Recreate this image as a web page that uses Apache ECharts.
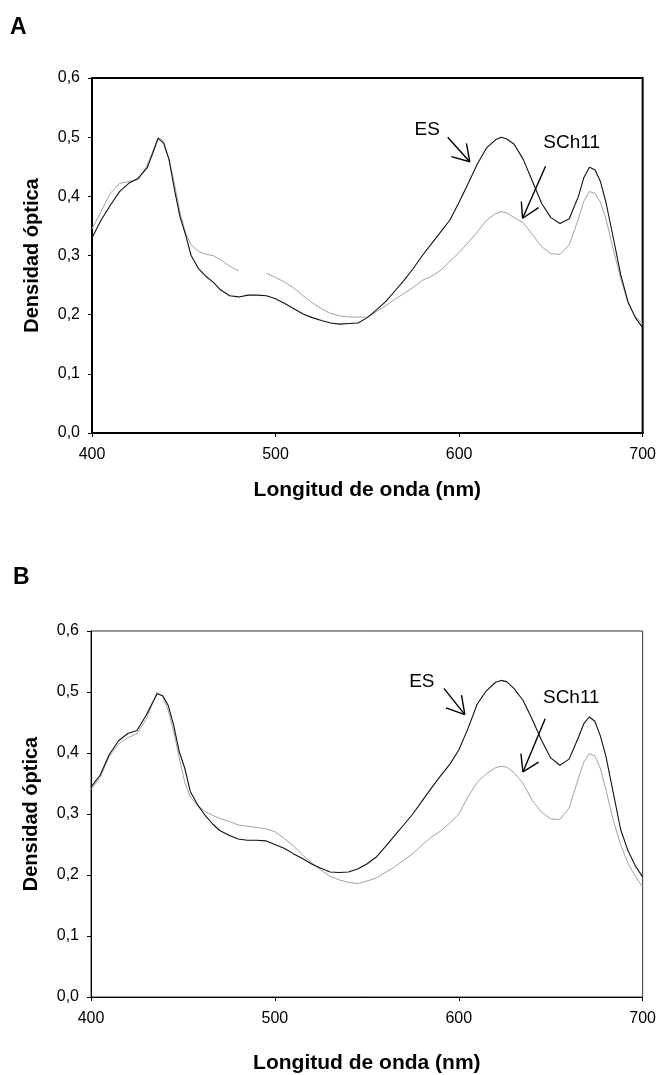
<!DOCTYPE html>
<html>
<head>
<meta charset="utf-8">
<script src="https://cdn.jsdelivr.net/npm/echarts@6/dist/echarts.min.js"></script>
<style>
html,body{margin:0;padding:0;background:#fff;}
#chart{width:659px;height:1075px;}
</style>
</head>
<body>
<div id="chart"></div>
<script>
// Wavelengths (nm)
var wavelengths = [400,405,410,415,420,425,430,433,436,439,442,445,448,451,454,458,462,466,470,475,480,485,490,495,500,505,510,515,520,525,530,535,540,545,550,555,560,565,570,575,580,585,590,595,600,605,610,615,620,623,626,630,635,640,645,650,655,660,665,668,671,674,677,680,684,688,692,696,700];

// Panel A
var esA = [0.330,0.360,0.385,0.408,0.422,0.430,0.448,0.472,0.498,0.490,0.462,0.410,0.365,0.335,0.300,0.278,0.265,0.255,0.242,0.232,0.230,0.233,0.233,0.232,0.227,0.219,0.210,0.201,0.195,0.190,0.186,0.184,0.185,0.186,0.195,0.208,0.222,0.240,0.258,0.278,0.300,0.320,0.340,0.360,0.390,0.422,0.455,0.482,0.496,0.500,0.497,0.488,0.462,0.425,0.388,0.364,0.354,0.362,0.400,0.432,0.449,0.445,0.425,0.390,0.330,0.268,0.222,0.195,0.178];
var schA = [0.345,0.375,0.405,0.422,0.425,0.428,0.452,0.475,0.500,0.493,0.462,0.420,0.372,0.338,0.318,0.307,0.302,0.300,0.293,0.282,0.274,null,null,0.270,0.263,0.255,0.245,0.232,0.220,0.210,0.202,0.198,0.196,0.196,0.196,0.205,0.215,0.226,0.236,0.246,0.258,0.265,0.275,0.290,0.305,0.322,0.340,0.360,0.371,0.374,0.372,0.364,0.355,0.335,0.315,0.303,0.302,0.318,0.362,0.392,0.408,0.405,0.390,0.362,0.310,0.262,0.220,0.197,0.185];

// Panel B
var esB = [0.344,0.364,0.398,0.420,0.432,0.437,0.462,0.480,0.497,0.494,0.478,0.445,0.402,0.375,0.337,0.315,0.298,0.284,0.273,0.265,0.259,0.257,0.257,0.256,0.250,0.244,0.235,0.227,0.218,0.211,0.205,0.204,0.205,0.210,0.218,0.229,0.246,0.264,0.282,0.300,0.321,0.342,0.362,0.381,0.405,0.440,0.480,0.502,0.516,0.519,0.517,0.506,0.486,0.455,0.421,0.392,0.380,0.390,0.425,0.448,0.459,0.452,0.428,0.395,0.335,0.275,0.240,0.215,0.197];
var schB = [0.340,0.360,0.395,0.415,0.425,0.432,0.455,0.478,0.500,0.492,0.470,0.435,0.392,0.352,0.328,0.314,0.304,0.298,0.293,0.288,0.282,0.280,0.278,0.276,0.271,0.260,0.248,0.233,0.220,0.208,0.198,0.192,0.188,0.186,0.190,0.195,0.204,0.213,0.224,0.235,0.249,0.262,0.272,0.285,0.300,0.328,0.352,0.366,0.376,0.378,0.377,0.368,0.350,0.322,0.303,0.292,0.291,0.310,0.358,0.385,0.399,0.395,0.375,0.340,0.290,0.250,0.219,0.198,0.180];

var seriesNames = ['ES','SCh11'];
var panelLabels = ['A','B'];
var xTitle = 'Longitud de onda (nm)';
var yTitle = 'Densidad óptica';

// Annotation anchors in data space
var annA = {
  es:  {label:[582.6,0.513], from:[593.8,0.500], to:[605.8,0.4585], w1:[604.0,0.4896], w2:[595.8,0.467]},
  sch: {label:[661.3,0.490], from:[647.1,0.451], to:[634.6,0.363], w1:[633.9,0.391], w2:[643.3,0.381]}
};
var annB = {
  es:  {label:[579.9,0.517], from:[591.9,0.506], to:[603.3,0.463], w1:[601.5,0.495], w2:[593.0,0.474]},
  sch: {label:[661.2,0.491], from:[647.0,0.456], to:[634.9,0.369], w1:[633.8,0.399], w2:[643.4,0.385]}
};

function pairs(xs, ys){ return xs.map(function(x,i){ return [x, ys[i]]; }); }

var FONT = 'Liberation Sans, Arial, sans-serif';

function arrowLines(a){
  var seg = function(p,q){ return [{coord:p},{coord:q}]; };
  return [
    seg(a.es.from, a.es.to), seg(a.es.w1, a.es.to), seg(a.es.w2, a.es.to),
    seg(a.sch.from, a.sch.to), seg(a.sch.w1, a.sch.to), seg(a.sch.w2, a.sch.to)
  ];
}
function labelPoints(a){
  return [
    {coord:a.es.label, value: seriesNames[0]},
    {coord:a.sch.label, value: seriesNames[1]}
  ];
}

function xAxisCfg(idx, lw, gap){
  return {
    type:'value', gridIndex: idx, min:400, max:700, interval:100,
    name: xTitle, nameLocation:'middle', nameGap: gap,
    nameTextStyle:{fontFamily:FONT, fontWeight:'bold', fontSize:21, color:'#000'},
    axisLine:{show:true, lineStyle:{color:'#000', width:lw}},
    axisTick:{show:true, length:4, lineStyle:{color:'#000'}},
    axisLabel:{fontFamily:FONT, fontSize:16, color:'#000', margin:14},
    splitLine:{show:false}
  };
}
function yAxisCfg(idx, lw){
  return {
    type:'value', gridIndex: idx, min:0, max:0.6, interval:0.1,
    name: yTitle, nameLocation:'middle', nameGap: 50,
    nameTextStyle:{fontFamily:FONT, fontWeight:'bold', fontSize:20, color:'#000'},
    axisLine:{show:true, lineStyle:{color:'#000', width:lw}},
    axisTick:{show:true, length:4, lineStyle:{color:'#000'}},
    axisLabel:{fontFamily:FONT, fontSize:16, color:'#000', margin:12,
      formatter:function(v){ return v.toFixed(1).replace('.',','); }},
    splitLine:{show:false}
  };
}

function lineSeries(name, data, idx, color, width, extra){
  var s = {
    name:name, type:'line', xAxisIndex:idx, yAxisIndex:idx,
    data: data, showSymbol:false, symbol:'none', connectNulls:false,
    lineStyle:{color:color, width:width}, animation:false, z:3
  };
  if (extra) for (var k in extra) s[k]=extra[k];
  return s;
}

function annotationExtra(a){
  return {
    markLine:{
      silent:true, symbol:['none','none'], animation:false,
      lineStyle:{color:'#000', width:1.4, type:'solid'},
      label:{show:false}, data: arrowLines(a)
    },
    markPoint:{
      silent:true, symbol:'circle', symbolSize:0, animation:false,
      label:{show:true, position:'inside', fontFamily:FONT, fontSize:19, color:'#000',
        formatter:function(p){ return p.value; }},
      data: labelPoints(a)
    }
  };
}

var chart = echarts.init(document.getElementById('chart'), null, {renderer:'canvas'});
chart.setOption({
  backgroundColor:'#fff',
  animation:false,
  title:[
    {text:panelLabels[0], left:10, top:16, padding:0, textStyle:{fontFamily:FONT, fontWeight:'bold', fontSize:23, color:'#000'}},
    {text:panelLabels[1], left:13, top:566, padding:0, textStyle:{fontFamily:FONT, fontWeight:'bold', fontSize:23, color:'#000'}}
  ],
  grid:[
    {left:92, top:78, width:551, height:355, show:true, borderColor:'#000', borderWidth:2, backgroundColor:'transparent'},
    {left:91, top:631, width:554, height:366, show:true, borderColor:'#333', borderWidth:1, backgroundColor:'transparent'}
  ],
  xAxis:[xAxisCfg(0,2,47), xAxisCfg(1,1,56)],
  yAxis:[yAxisCfg(0,2), yAxisCfg(1,1)],
  series:[
    lineSeries(seriesNames[1], pairs(wavelengths, schA), 0, '#a3a3a3', 1),
    lineSeries(seriesNames[0], pairs(wavelengths, esA), 0, '#111', 1.1, annotationExtra(annA)),
    lineSeries(seriesNames[1], pairs(wavelengths, schB), 1, '#a3a3a3', 1),
    lineSeries(seriesNames[0], pairs(wavelengths, esB), 1, '#111', 1.1, annotationExtra(annB))
  ]
});
</script>
</body>
</html>
